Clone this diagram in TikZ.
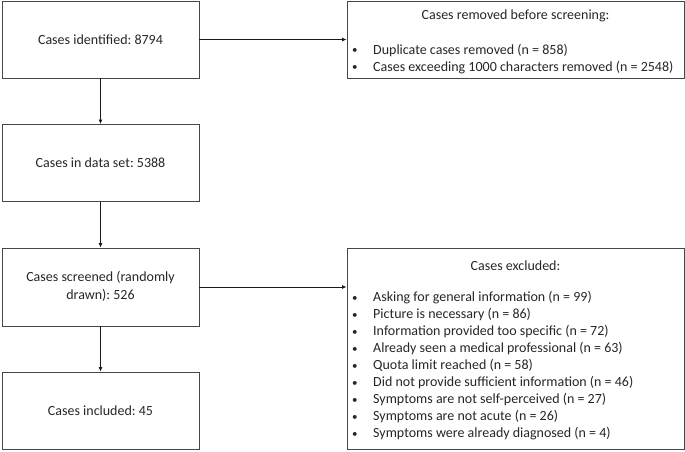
\documentclass[tikz,border=0pt]{standalone}
\usepackage{fontspec}
\setmainfont{Carlito}
\usetikzlibrary{arrows.meta}
\newcommand{\bul}{\makebox[21pt][l]{\raisebox{0.5pt}{\fontsize{11}{11}\selectfont •}}}
\begin{document}
\frenchspacing
\begin{tikzpicture}[x=1pt,y=-1pt,
  box/.style={draw=black!72, line width=0.9pt, rectangle, inner sep=0pt, font=\fontsize{14}{17}\selectfont\frenchspacing, text=black!85},
  conn/.style={draw=black!90, line width=0.9pt, -{Latex[length=4.5pt,width=4pt]}},
  txt/.style={inner sep=0pt, font=\fontsize{14}{17}\selectfont\frenchspacing, text=black!85}
]
\useasboundingbox (0,0) rectangle (685,451);
\node[box, minimum width=197pt, minimum height=77pt] (ident) at (100.5,39.5) {Cases identified: 8794};
\node[box, minimum width=197pt, minimum height=77pt] (data) at (100.5,163) {Cases in data set: 5388};
\node[box, minimum width=197pt, minimum height=78pt] (screen) at (100.5,287) {\renewcommand{\arraystretch}{1.02}\begin{tabular}{@{}c@{}}Cases screened (randomly\\drawn): 526\end{tabular}};
\node[box, minimum width=197pt, minimum height=77pt] (incl) at (100.5,410.5) {Cases included: 45};
\node[box, minimum width=337pt, minimum height=77pt] (removed) at (515.5,39.5) {};
\node[box, minimum width=337pt, minimum height=201pt] (excl) at (515.5,348.5) {};
\node[txt] (remT) at (515.5,15.5) {Cases removed before screening:};
\node[txt, anchor=north west, align=left] (remL) at (352,44) {\bul Duplicate cases removed (n = 858)\\
\bul Cases exceeding 1000 characters removed (n = 2548)};
\node[txt] (excT) at (515.5,265.5) {Cases excluded:};
\node[txt, anchor=north west, align=left] (excL) at (352,291.5) {\bul Asking for general information (n = 99)\\
\bul Picture is necessary (n = 86)\\
\bul Information provided too specific (n = 72)\\
\bul Already seen a medical professional (n = 63)\\
\bul Quota limit reached (n = 58)\\
\bul Did not provide sufficient information (n = 46)\\
\bul Symptoms are not self-perceived (n = 27)\\
\bul Symptoms are not acute (n = 26)\\
\bul Symptoms were already diagnosed (n = 4)};
\draw[conn] (ident) -- (removed);
\draw[conn] (screen) -- (excl.west |- screen.east);
\draw[conn] (ident) -- (data);
\draw[conn] (data) -- (screen);
\draw[conn] (screen) -- (incl);
\end{tikzpicture}
\end{document}
